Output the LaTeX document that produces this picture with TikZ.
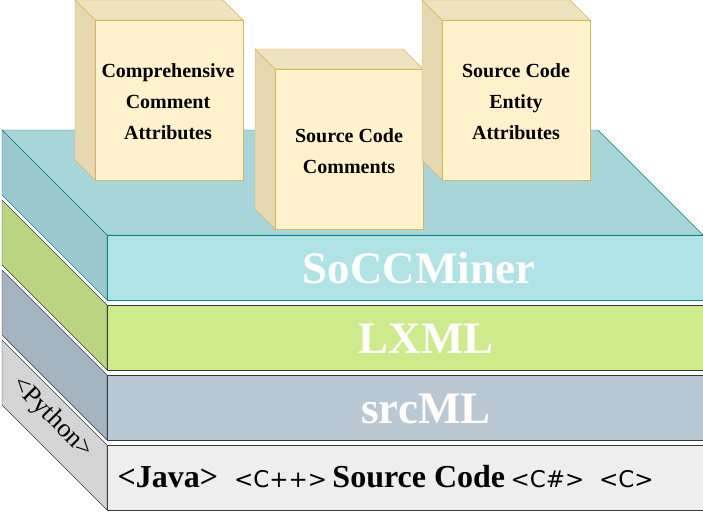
\documentclass[tikz,border=0pt]{standalone}
\usepackage{fontspec}
\setmainfont{Liberation Serif}
\newfontfamily\symfont{DejaVu Sans}
\usetikzlibrary{positioning}
\definecolor{boxfill}{HTML}{FFF2CC}
\definecolor{boxside}{HTML}{E6D8B0}
\definecolor{boxtop}{HTML}{EFE2BE}
\definecolor{boxline}{HTML}{D6B656}
\tikzset{
  facebox/.style={draw=boxline,fill=boxfill},
  sidebox/.style={draw=boxline,fill=boxside},
  topbox/.style={draw=boxline,fill=boxtop},
  boxtext/.style={font=\bfseries\fontsize{20}{31}\selectfont,align=center},
  layertext/.style={font=\bfseries\fontsize{45}{45}\selectfont,text=white},
}
\begin{document}
\begin{tikzpicture}[x=1pt,y=-1pt,line join=round]
\useasboundingbox (0,0) rectangle (703,511);

% layers, bottom to top
\foreach \yy/\front/\side/\edge in {
    340/EEEEEE/D4D4D4/36393D,
    270/BAC8D3/A3B3BF/36393D,
    200/CDEB8B/B9D57F/36393D}{
  \definecolor{fc}{HTML}{\front}\definecolor{sc}{HTML}{\side}\definecolor{ec}{HTML}{\edge}
  \draw[draw=ec,fill=sc] (2,\yy) -- (107,\yy+105) -- (107,\yy+170) -- (2,\yy+65) -- cycle;
  \draw[draw=ec,fill=fc] (107,\yy+105) rectangle (703,\yy+170);
}
\definecolor{tealline}{HTML}{0E8088}
\draw[draw=tealline,fill={rgb,255:red,168;green,213;blue,218}] (2,130) -- (598,130) -- (703,235) -- (107,235) -- cycle;
\draw[draw=tealline,fill={rgb,255:red,155;green,200;blue,206}] (2,130) -- (107,235) -- (107,300) -- (2,195) -- cycle;
\draw[draw=tealline,fill={rgb,255:red,176;green,227;blue,230}] (107,235) rectangle (703,300);

\node[layertext] (soccminer) at (419,268) {SoCCMiner};
\node[layertext] (lxml) at (426,339) {LXML};
\node[layertext] (srcml) at (426,409) {srcML};
\node[font=\fontsize{26}{26}\selectfont,rotate=-45] (python) at (52,418) {<Python>};
\node[anchor=west,font=\fontsize{32}{32}\selectfont] (source) at (114,477)
  {\textbf{<Java>}\ \ {\symfont\fontsize{23}{23}\selectfont <C++>}\,\textbf{Source Code}\,{\symfont\fontsize{23}{23}\selectfont <C\#>\ \ <C>}};

% attribute boxes
\foreach \bx/\by/\nm in {75/0/comment, 255/49/srccomm, 422/0/entity}{
  \draw[topbox] (\bx,\by) -- (\bx+148,\by) -- (\bx+168,\by+20) -- (\bx+20,\by+20) -- cycle;
  \draw[sidebox] (\bx,\by) -- (\bx+20,\by+20) -- (\bx+20,\by+180) -- (\bx,\by+160) -- cycle;
  \draw[facebox] (\bx+20,\by+20) rectangle (\bx+168,\by+180);
  \coordinate (\nm) at (\bx+94,\by+100);
}
\node[boxtext] (commenttext) at (168,102) {Comprehensive\\Comment\\Attributes};
\node[boxtext] (srccommtext) at (349,151) {Source Code\\Comments};
\node[boxtext] (entitytext) at (516,102) {Source Code\\Entity\\Attributes};
\end{tikzpicture}
\end{document}
